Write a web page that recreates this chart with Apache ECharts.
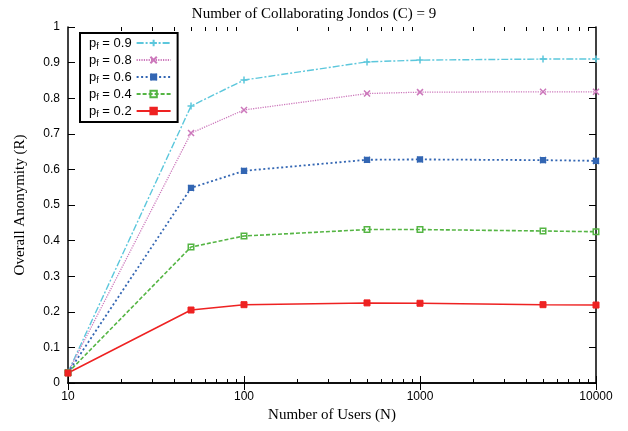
<!DOCTYPE html>
<html><head><meta charset="utf-8">
<script src="https://cdn.jsdelivr.net/npm/echarts@6/dist/echarts.min.js"></script>
<style>html,body{margin:0;padding:0;background:#fff}#c{width:628px;height:431px}</style>
</head><body><div id="c"></div>
<script>
const users = [10, 50, 100, 500, 1000, 5000, 10000];
const pf09 = [0.030, 0.778, 0.851, 0.902, 0.907, 0.910, 0.910];
const pf08 = [0.030, 0.702, 0.767, 0.813, 0.817, 0.818, 0.818];
const pf06 = [0.029, 0.548, 0.596, 0.627, 0.628, 0.626, 0.624];
const pf04 = [0.029, 0.382, 0.413, 0.431, 0.431, 0.427, 0.425];
const pf02 = [0.028, 0.205, 0.220, 0.225, 0.224, 0.220, 0.219];
const majorX = [10, 100, 1000, 10000];
const minorX = [20,30,40,50,60,70,80,90,200,300,400,500,600,700,800,900,2000,3000,4000,5000,6000,7000,8000,9000];

const pairs = a => users.map((u, i) => [u, a[i]]);
const sans = 'Liberation Sans';
const serif = 'Liberation Serif';

const PLUS = 'path://M5,0 L5,10 M0,5 L10,5';
const CROSS = 'path://M0,0 L10,10 M10,0 L0,10';
const STAR = 'path://M0,0 L10,10 M10,0 L0,10 M5,0 L5,10 M0,5 L10,5 M1,1 L9,1 L9,9 L1,9 Z';

function mk(name, data, color, dash, symbol, size, fill, lw, bw) {
  return {
    name, type: 'line', data: pairs(data), symbol, symbolSize: size,
    lineStyle: { color, width: lw || 1.3, type: dash },
    itemStyle: { color: fill, borderColor: color, borderWidth: bw || 1.5 },
    emphasis: { disabled: true }, animation: false, z: 3
  };
}

const lg = v => Math.log10(v);
function minorAxis(pos) {
  return {
    type: 'value', min: 1, max: 4, position: pos, gridIndex: 0,
    axisLine: { show: false },
    axisTick: { show: true, inside: true, length: 4, lineStyle: { color: '#000', width: 1 }, customValues: minorX.map(lg) },
    axisLabel: { show: false }, splitLine: { show: false }
  };
}

const chart = echarts.init(document.getElementById('c'));
chart.setOption({
  animation: false,
  title: {
    text: 'Number of Collaborating Jondos (C) = 9', left: 'center', top: 2,
    textStyle: { fontFamily: serif, fontSize: 15, fontWeight: 'normal', color: '#000' }
  },
  grid: { left: 68, right: 32, top: 27, bottom: 48 },
  xAxis: [
    {
      type: 'log', logBase: 10, min: 10, max: 10000, position: 'bottom',
      name: 'Number of Users (N)', nameLocation: 'middle', nameGap: 21,
      nameTextStyle: { fontFamily: serif, fontSize: 15, color: '#000', verticalAlign: 'top' },
      axisLine: { show: true, lineStyle: { color: '#000', width: 1.5 } },
      axisTick: { show: true, inside: true, length: 7, lineStyle: { color: '#000', width: 1 } },
      axisLabel: { color: '#000', fontFamily: sans, fontSize: 12, margin: 8, formatter: v => String(Math.round(v)) },
      splitLine: { show: false }
    },
    {
      type: 'log', logBase: 10, min: 10, max: 10000, position: 'top',
      axisLine: { show: true, lineStyle: { color: '#000', width: 1.5 } },
      axisTick: { show: true, inside: true, length: 7, lineStyle: { color: '#000', width: 1 } },
      axisLabel: { show: false }, splitLine: { show: false }
    },
    minorAxis('bottom'),
    minorAxis('top')
  ],
  yAxis: [
    {
      type: 'value', min: 0, max: 1, interval: 0.1, position: 'left',
      name: 'Overall Anonymity (R)', nameLocation: 'middle', nameGap: 40, nameRotate: 90,
      nameTextStyle: { fontFamily: serif, fontSize: 15, color: '#000' },
      axisLine: { show: true, lineStyle: { color: '#000', width: 1.5 } },
      axisTick: { show: true, inside: true, length: 7, lineStyle: { color: '#000', width: 1 } },
      axisLabel: { color: '#000', fontFamily: sans, fontSize: 12, margin: 8,
        formatter: v => String(Math.round(v * 10) / 10) },
      splitLine: { show: false }
    },
    {
      type: 'value', min: 0, max: 1, interval: 0.1, position: 'right',
      axisLine: { show: true, lineStyle: { color: '#000', width: 1.5 } },
      axisTick: { show: true, inside: true, length: 7, lineStyle: { color: '#000', width: 1 } },
      axisLabel: { show: false }, splitLine: { show: false }
    }
  ],
  legend: {
    orient: 'vertical', left: 80, top: 33, align: 'right',
    itemWidth: 34, itemHeight: 8, itemGap: 2,
    padding: [3, 6, 3, 9],
    borderColor: '#000', borderWidth: 2, backgroundColor: '#fff',
    data: ['0.9', '0.8', '0.6', '0.4', '0.2'],
    formatter: n => '{a|p}{b|f}{a| = ' + n + '}',
    textStyle: {
      rich: {
        a: { fontFamily: sans, fontSize: 13, lineHeight: 16, color: '#000' },
        b: { fontFamily: sans, fontSize: 9, lineHeight: 10, color: '#000', verticalAlign: 'bottom', padding: [6, 0, 0, 0] }
      }
    }
  },
  series: [
    mk('0.9', pf09, '#5cc7dc', [7, 2, 2, 2], PLUS, 7, 'transparent', 1.4),
    mk('0.8', pf08, '#cc77bb', [1.2, 1.2], CROSS, 6, 'transparent', 1.3),
    mk('0.6', pf06, '#3366b3', [2, 2.5], STAR, 6, '#3366b3', 1.8),
    mk('0.4', pf04, '#55b544', [4, 2], 'rect', 5.5, 'transparent', 1.6),
    mk('0.2', pf02, '#ee2222', 'solid', 'rect', 6, '#ee2222', 1.5, 1)
  ]
});
</script></body></html>
